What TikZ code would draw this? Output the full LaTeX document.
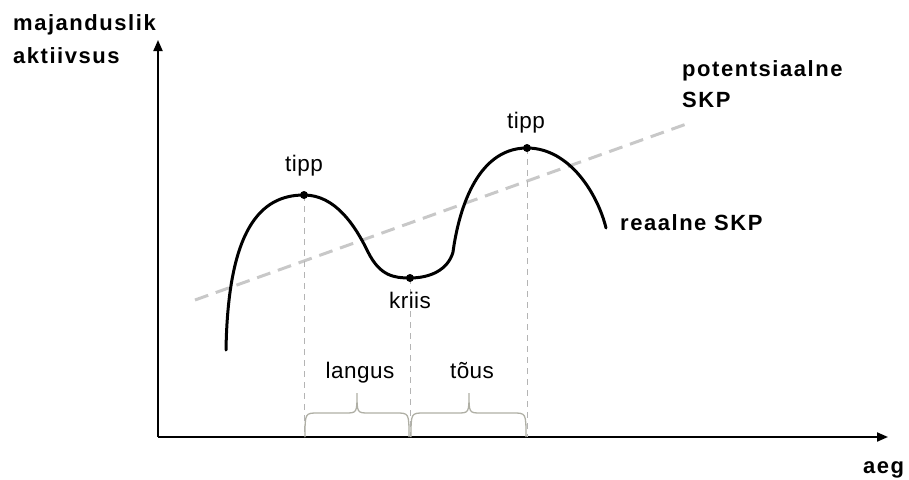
\documentclass[tikz,border=0pt]{standalone}
\usepackage{fontspec}
\setmainfont{Liberation Sans}
\newfontfamily\boldlab[LetterSpace=7]{Liberation Sans}
\newfontfamily\normlab[LetterSpace=2]{Liberation Sans}
\usetikzlibrary{arrows.meta}
\definecolor{trendgray}{RGB}{200,200,200}
\definecolor{guidegray}{RGB}{180,180,180}
\definecolor{bracegray}{RGB}{175,175,165}
\tikzset{
  axisline/.style={line width=2pt, -{Triangle[length=11pt,width=9pt]}},
  bigtxt/.style={font=\boldlab\bfseries\fontsize{22}{25}\selectfont, inner sep=0pt, anchor=base west},
  smalltxt/.style={font=\normlab\fontsize{22.5}{25}\selectfont, inner sep=0pt, anchor=base},
  curveline/.style={line width=3pt, line cap=round},
  trendline/.style={trendgray, line width=3pt, dash pattern=on 14pt off 8pt},
  guideline/.style={guidegray, line width=1pt, dash pattern=on 6pt off 5pt},
  bracestyle/.style={bracegray, line width=1.3pt},
  dotmark/.style={circle, fill=black, inner sep=0pt, minimum size=8pt}
}
\begin{document}
\begin{tikzpicture}[x=1pt,y=-1pt]
\useasboundingbox (0,0) rectangle (909,479);
% axes
\coordinate (origin) at (158,437);
\coordinate (ytip) at (158,40);
\coordinate (xtip) at (888,437);
\draw[axisline] (origin) -- (ytip);
\draw[axisline] (origin) -- (xtip);
% trend line
\coordinate (trendA) at (195,300);
\coordinate (trendB) at (692,122);
\draw[trendline] (trendA) -- (trendB);
% key points
\coordinate (start) at (226,350);
\coordinate (peakA) at (304,195);
\coordinate (inflA) at (368,252);
\coordinate (trough) at (410,278);
\coordinate (inflB) at (453,252);
\coordinate (peakB) at (527,148);
\coordinate (finish) at (606,228);
% guide lines
\draw[guideline] (peakA) -- (peakA |- origin);
\draw[guideline] (trough) -- (trough |- origin);
\draw[guideline] (peakB) -- (peakB |- origin);
% real curve
\draw[curveline] (start) .. controls (228,230) and (260,195) .. (peakA)
  .. controls (335,195) and (355,225) .. (inflA)
  .. controls (380,276) and (394,278) .. (trough)
  .. controls (430,278) and (448,270) .. (inflB)
  .. controls (458,215) and (475,148) .. (peakB)
  .. controls (570,148) and (598,195) .. (finish);
\node[dotmark] (dotA) at (peakA) {};
\node[dotmark] (dotT) at (trough) {};
\node[dotmark] (dotB) at (peakB) {};
% braces
\draw[bracestyle] (305,437) .. controls (305,413) .. (318,413) -- (345,413)
  .. controls (357,413) .. (357,393) .. controls (357,413) .. (369,413) -- (396,413)
  .. controls (409,413) .. (409,437);
\draw[bracestyle] (411,437) .. controls (411,413) .. (424,413) -- (457,413)
  .. controls (469,413) .. (469,393) .. controls (469,413) .. (481,413) -- (513,413)
  .. controls (526,413) .. (526,437);
% labels
\node[smalltxt] (tippA) at (304,171) {tipp};
\node[smalltxt] (tippB) at (526,128) {tipp};
\node[smalltxt] (kriis) at (410,308) {kriis};
\node[smalltxt] (langus) at (360,378) {langus};
\node[smalltxt] (tous) at (472,378) {tõus};
\node[bigtxt] (ylab1) at (13,30) {majanduslik};
\node[bigtxt] (ylab2) at (13,63) {aktiivsus};
\node[bigtxt] (pot1) at (682,76) {potentsiaalne};
\node[bigtxt] (pot2) at (682,107) {SKP};
\node[bigtxt] (real) at (620,230) {reaalne SKP};
\node[bigtxt] (xlab) at (863,473) {aeg};
\end{tikzpicture}
\end{document}
